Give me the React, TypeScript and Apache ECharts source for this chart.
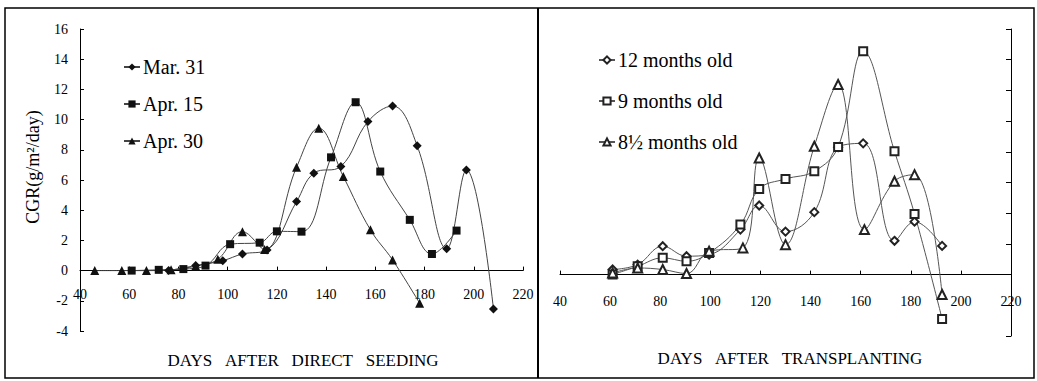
import React, { useEffect, useRef } from "react";
import * as echarts from "echarts";

const SERIF = '"Liberation Serif", "Times New Roman", serif';

// Left panel: days after direct seeding
const marDays = [76, 87, 98, 106, 116, 128, 135, 146, 157, 167, 177, 189, 197, 208];
const marVals = [0, 0.33, 0.66, 1.1, 1.37, 4.57, 6.45, 6.9, 9.87, 10.9, 8.26, 1.45, 6.67, -2.55];

const apr15Days = [61, 72, 82, 91, 101, 113, 120, 130, 142, 152, 162, 174, 183, 193];
const apr15Vals = [0, 0.05, 0.1, 0.33, 1.75, 1.85, 2.6, 2.58, 7.5, 11.15, 6.56, 3.36, 1.1, 2.65];

const apr30Days = [46, 57, 67, 77, 87, 96, 106, 115, 128, 137, 147, 158, 167, 178];
const apr30Vals = [0, 0, 0, 0.05, 0.3, 0.75, 2.58, 1.4, 6.85, 9.43, 6.23, 2.7, 0.71, -2.16];

// Right panel: days after transplanting
const m12Days = [61, 71, 81, 90.5, 99.5, 112, 119.5, 130, 141.5, 151, 161, 173.5, 181.5, 192.5];
const m12Vals = [0.33, 0.65, 1.85, 1.2, 1.3, 2.93, 4.5, 2.8, 4.07, 8.3, 8.55, 2.2, 3.45, 1.87];

const m9Days = [61, 71, 81, 90.5, 99.5, 112, 119.5, 130, 141.5, 151, 161, 173.5, 181.5, 192.5];
const m9Vals = [0, 0.54, 1.09, 0.87, 1.41, 3.26, 5.58, 6.23, 6.73, 8.32, 14.55, 8.03, 3.95, -2.89];

const m85Days = [61, 71, 81, 90.5, 99.5, 113, 119.5, 130, 141.5, 151, 161.5, 173.5, 181.5, 192.5];
const m85Vals = [0.1, 0.43, 0.33, 0.07, 1.52, 1.74, 7.6, 1.95, 8.36, 12.38, 2.93, 6.08, 6.51, -1.3];

const leftNames = ["Mar. 31", "Apr. 15", "Apr. 30"];
const rightNames = ["12 months old", "9 months old", "8\u00bd months old"];

const xMin = 40;
const xMax = 220;
const xStep = 20;
const yMin = -4;
const yMax = 16;
const yStep = 2;

function pairs(d: number[], v: number[]) {
  return d.map((x, i) => [x, v[i]]);
}

function xAxisCfg(gridIndex: number, margin: number) {
  return {
    gridIndex,
    type: "value",
    min: xMin,
    max: xMax,
    interval: xStep,
    axisLine: { onZero: true, lineStyle: { color: "#000", width: 1 } },
    axisTick: { inside: true, length: 4, lineStyle: { color: "#000" } },
    axisLabel: { margin, fontFamily: SERIF, fontSize: 14, color: "#000" },
    splitLine: { show: false },
  };
}

function lineSeries(name: string, data: number[][], symbol: string, size: number, xi: number, filled: boolean) {
  return {
    name,
    type: "line",
    xAxisIndex: xi,
    yAxisIndex: xi,
    data,
    smooth: 0.4,
    symbol,
    symbolSize: size,
    showAllSymbol: true,
    itemStyle: filled ? { color: "#111" } : { color: "#222", borderColor: "#222", borderWidth: 1 },
    lineStyle: { color: filled ? "#444" : "#555", width: 1 },
    z: 3,
  };
}

export default function App() {
  const ref = useRef<HTMLDivElement>(null);
  useEffect(() => {
    if (!ref.current) return;
    const chart = echarts.init(ref.current, null, { renderer: "svg" });
    const option: any = {
      animation: false,
      backgroundColor: "#fff",
      grid: [
        { left: 80, top: 29, width: 443, height: 302 },
        { left: 560, top: 29, width: 451, height: 307 },
      ],
      xAxis: [xAxisCfg(0, -44), xAxisCfg(1, -42)],
      yAxis: [
        {
          gridIndex: 0,
          type: "value",
          min: yMin,
          max: yMax,
          interval: yStep,
          axisLine: { show: true, onZero: false, lineStyle: { color: "#000", width: 1 } },
          axisTick: { show: true, inside: true, length: 4, lineStyle: { color: "#000" } },
          axisLabel: { margin: 12, fontFamily: SERIF, fontSize: 14, color: "#000" },
          splitLine: { show: false },
        },
        {
          gridIndex: 1,
          type: "value",
          position: "right",
          min: yMin,
          max: yMax,
          interval: yStep,
          axisLine: { show: true, onZero: false, lineStyle: { color: "#000", width: 1 } },
          axisTick: { show: true, inside: true, length: 5, lineStyle: { color: "#000" } },
          axisLabel: { show: false },
          splitLine: { show: false },
        },
      ],
      legend: [
        {
          data: leftNames,
          orient: "vertical",
          left: 118,
          top: 52,
          itemGap: 17,
          itemWidth: 16,
          itemHeight: 9,
          selectedMode: false,
          textStyle: { fontFamily: SERIF, fontSize: 20, color: "#000", padding: [0, 0, 0, -2] },
        },
        {
          data: rightNames,
          orient: "vertical",
          left: 593,
          top: 45,
          itemGap: 21,
          itemWidth: 16,
          itemHeight: 9,
          selectedMode: false,
          textStyle: { fontFamily: SERIF, fontSize: 20, color: "#000", padding: [0, 0, 0, -2] },
        },
      ],
      series: [
        lineSeries(leftNames[0], pairs(marDays, marVals), "diamond", 9, 0, true),
        lineSeries(leftNames[1], pairs(apr15Days, apr15Vals), "rect", 8, 0, true),
        lineSeries(leftNames[2], pairs(apr30Days, apr30Vals), "triangle", 9, 0, true),
        lineSeries(rightNames[0], pairs(m12Days, m12Vals), "emptyDiamond", 8, 1, false),
        lineSeries(rightNames[1], pairs(m9Days, m9Vals), "emptyRect", 8, 1, false),
        lineSeries(rightNames[2], pairs(m85Days, m85Vals), "emptyTriangle", 9, 1, false),
      ],
      graphic: [
        {
          type: "rect",
          shape: { x: 5, y: 8, width: 1029, height: 370 },
          style: { fill: "none", stroke: "#000", lineWidth: 1.5 },
          silent: true,
        },
        {
          type: "line",
          shape: { x1: 538, y1: 8, x2: 538, y2: 378 },
          style: { stroke: "#000", lineWidth: 2 },
          silent: true,
        },
        {
          type: "text",
          x: 33,
          y: 167,
          rotation: Math.PI / 2,
          style: {
            text: "CGR(g/m\u00b2/day)",
            fontFamily: SERIF,
            fontSize: 18,
            fill: "#000",
            align: "center",
            verticalAlign: "middle",
          },
        },
        {
          type: "text",
          x: 303,
          y: 360,
          style: {
            text: "DAYS\u00a0\u00a0\u00a0AFTER\u00a0\u00a0\u00a0DIRECT\u00a0\u00a0\u00a0SEEDING",
            fontFamily: SERIF,
            fontSize: 17,
            fill: "#000",
            align: "center",
            verticalAlign: "middle",
          },
        },
        {
          type: "text",
          x: 790,
          y: 358,
          style: {
            text: "DAYS\u00a0\u00a0\u00a0AFTER\u00a0\u00a0\u00a0TRANSPLANTING",
            fontFamily: SERIF,
            fontSize: 17,
            fill: "#000",
            align: "center",
            verticalAlign: "middle",
          },
        },
      ],
    };
    chart.setOption(option);
    return () => chart.dispose();
  }, []);
  return (
    <div
      ref={ref}
      style={{ position: "fixed", left: 0, top: 0, width: 1037, height: 381, background: "#fff" }}
    />
  );
}
